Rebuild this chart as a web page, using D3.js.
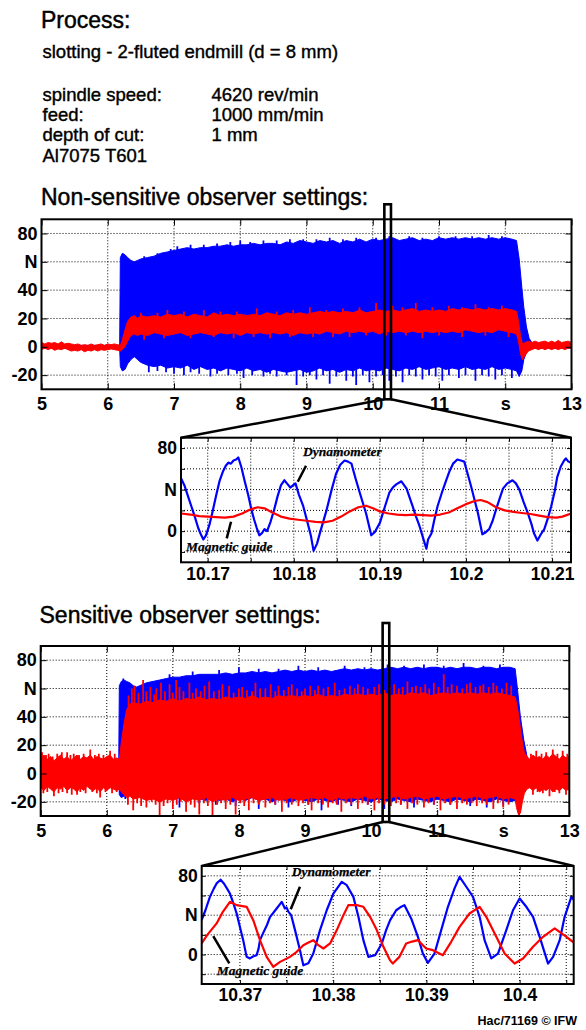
<!DOCTYPE html>
<html><head><meta charset="utf-8">
<script src="https://cdn.jsdelivr.net/npm/d3@7"></script>
<style>
body{margin:0;background:#fff;}
svg{display:block;}
</style></head><body>
<svg id="c" width="586" height="1030"></svg>
<script>
// ---------------- DATA ----------------
const overviewXTicks = [5,6,7,8,9,10,11,12,13];
const overviewXLabels = ["5","6","7","8","9","10","11","s","13"];
const yTicks = [-20,0,20,40,60,80];
const overviewYLabels = ["-20","0","20","40","N","80"];
const zoomYLabels = ["","0","","N","","80"];
const zoom1XTicks = [10.17,10.175,10.18,10.185,10.19,10.195,10.2,10.205,10.21];
const zoom1XLabels = ["10.17","","10.18","","10.19","","10.2","","10.21"];
const zoom2XTicks = [10.37,10.375,10.38,10.385,10.39,10.395,10.4,10.405];
const zoom2XLabels = ["10.37","","10.38","","10.39","","10.4",""];

// Non-sensitive overview: envelopes [time s, min N, max N]
const nsBlueEnv = [[5.0,-1,1],[6.18,-1,1],[6.19,-14,63],[6.22,-17,66],[6.26,-16,65],[6.3,-12,63],[6.35,-9,61],[6.4,-7,60],[6.45,-9,61],[6.5,-11,62],[6.6,-13,63],[6.7,-14,64],[6.8,-13,66],[6.9,-15,67],[7.0,-14,68],[7.1,-15,69],[7.2,-13,70],[7.3,-16,69],[7.4,-14,70],[7.5,-16,70],[7.6,-15,71],[7.7,-17,71],[7.8,-15,72],[7.9,-16,71],[8.0,-17,72],[8.1,-15,72],[8.2,-17,73],[8.3,-16,72],[8.4,-18,73],[8.5,-16,73],[8.6,-17,72],[8.7,-18,74],[8.8,-17,73],[8.9,-16,75],[9.0,-18,74],[9.1,-17,73],[9.2,-15,75],[9.3,-17,74],[9.4,-16,75],[9.5,-18,73],[9.6,-16,75],[9.7,-17,74],[9.8,-15,76],[9.9,-17,74],[10.0,-16,76],[10.1,-17,75],[10.2,-15,76],[10.3,-16,77],[10.4,-17,75],[10.5,-15,76],[10.6,-16,77],[10.7,-14,75],[10.8,-16,76],[10.9,-15,75],[11.0,-14,77],[11.1,-16,76],[11.2,-15,77],[11.3,-16,76],[11.4,-14,77],[11.5,-16,76],[11.6,-15,77],[11.7,-16,76],[11.8,-14,77],[11.9,-16,76],[12.0,-15,77],[12.1,-16,76],[12.17,-17,75],[12.21,-21,62],[12.25,-17,42],[12.28,-9,28],[12.32,-4,14],[12.36,-2,6],[12.4,-1,3],[12.45,-1,1],[13.0,-1,1]];
const nsRedEnv = [[5.0,-2,3],[5.05,-1,2],[5.1,-2,3],[5.15,-1,2.5],[5.2,-2.5,3],[5.25,-1.5,2],[5.3,-2,3.5],[5.35,-1,2],[5.4,-2,2.5],[5.45,-3,2],[5.5,-2.5,1.5],[5.55,-3,2],[5.6,-2,1],[5.65,-3.5,1.5],[5.7,-2.5,1],[5.75,-3,2],[5.8,-2,1],[5.85,-3,1.5],[5.9,-2,2],[5.95,-2.5,1],[6.0,-2,2],[6.05,-1.5,1.5],[6.1,-2,2],[6.15,-2.5,1.5],[6.19,-3,1],[6.22,-2,5],[6.26,0,12],[6.3,4,18],[6.35,8,21],[6.4,9,22],[6.45,8,20],[6.5,9,22],[6.6,8,21],[6.7,10,22],[6.8,9,21],[6.9,8,23],[7.0,9,22],[7.1,10,23],[7.2,8,21],[7.3,9,23],[7.4,10,22],[7.5,9,21],[7.6,8,24],[7.7,10,22],[7.8,9,23],[7.9,10,22],[8.0,8,23],[8.1,10,22],[8.2,9,23],[8.3,10,22],[8.4,9,24],[8.5,10,23],[8.6,9,22],[8.7,10,24],[8.8,8,23],[8.9,10,24],[9.0,9,23],[9.1,10,24],[9.2,9,25],[9.3,11,24],[9.4,10,25],[9.5,9,24],[9.6,11,25],[9.7,10,24],[9.8,11,26],[9.9,10,24],[10.0,11,25],[10.1,9,26],[10.2,11,25],[10.3,10,26],[10.4,11,25],[10.5,10,26],[10.6,11,27],[10.7,10,25],[10.8,11,26],[10.9,10,25],[11.0,11,26],[11.1,10,25],[11.2,11,27],[11.3,10,26],[11.4,12,27],[11.5,11,26],[11.6,10,27],[11.7,11,26],[11.8,10,27],[11.9,12,26],[12.0,11,27],[12.1,10,26],[12.17,9,25],[12.2,4,18],[12.23,-5,8],[12.26,-9,2],[12.3,-6,3],[12.35,-3,4],[12.4,-2,3],[12.45,-1,4],[12.5,-2,3],[12.55,-1,3.5],[12.6,-2,4],[12.65,-1,3],[12.7,-2,4],[12.75,-1,3],[12.8,-2,4.5],[12.85,-1,3],[12.9,-2,3.5],[12.95,-1,4],[13.0,-1,3]];
const nsBlueSpikes = [[6.62,-18],[6.75,-17],[6.88,-18],[7.0,-19],[7.15,-20],[7.25,-18],[7.38,-19],[7.55,-21],[7.65,-19],[7.82,-20],[7.95,-19],[8.05,-22],[8.18,-20],[8.35,-21],[8.45,-19],[8.55,-21],[8.7,-20],[8.85,-27],[8.95,-21],[9.05,-20],[9.15,-23],[9.25,-20],[9.35,-26],[9.45,-21],[9.6,-24],[9.7,-21],[9.75,-27],[9.85,-20],[9.95,-25],[10.05,-21],[10.15,-20],[10.25,-24],[10.35,-21],[10.45,-25],[10.55,-20],[10.65,-21],[10.75,-23],[10.85,-20],[10.95,-21],[11.05,-24],[11.15,-20],[11.3,-22],[11.4,-20],[11.55,-24],[11.65,-20],[11.75,-21],[11.85,-23],[11.95,-20],[12.1,-22],[6.55,64],[6.75,66],[6.95,69],[7.05,71],[7.25,72],[7.45,72],[7.65,73],[7.85,74],[8.0,75],[8.15,74],[8.35,75],[8.55,75],[8.75,76],[8.95,76],[9.15,76],[9.35,77],[9.55,76],[9.75,77],[10.05,77],[10.25,78],[10.55,78],[10.75,77],[11.0,78],[11.25,78],[11.5,78],[11.75,79],[11.95,78]];
const nsRedSpikes = [[6.5,24],[6.75,24],[6.9,26],[7.15,25],[7.45,26],[7.7,25],[7.95,25],[8.25,27],[8.55,25],[8.8,26],[9.05,28],[9.3,26],[9.55,27],[9.8,28],[10.05,31],[10.3,29],[10.45,28],[10.65,31],[10.9,28],[11.15,29],[11.35,28],[11.55,30],[11.75,28],[11.95,29],[6.55,5],[6.85,6],[7.25,6],[7.6,7],[7.9,6],[8.2,7],[8.45,6],[8.75,7],[9.1,7],[9.4,7],[9.65,7],[9.9,8],[10.2,8],[10.5,8],[10.75,6],[11.0,8],[11.35,7],[11.7,8],[12.05,7]];

// Sensitive overview
const sBlueEnv = [[5.0,-1,1],[6.18,-1,1],[6.19,-15,62],[6.22,-17,65],[6.26,-16,66],[6.3,-15,65],[6.35,-14,64],[6.4,-13,62],[6.45,-12,61],[6.5,-13,62],[6.6,-15,64],[6.7,-16,65],[6.8,-17,66],[6.9,-16,67],[7.0,-18,68],[7.1,-17,68],[7.2,-19,69],[7.3,-17,69],[7.4,-18,70],[7.5,-19,70],[7.6,-17,70],[7.7,-19,70],[7.8,-18,71],[7.9,-20,70],[8.0,-18,71],[8.1,-19,71],[8.2,-17,72],[8.3,-19,71],[8.4,-18,72],[8.5,-20,71],[8.6,-18,72],[8.7,-19,73],[8.8,-20,72],[8.9,-18,73],[9.0,-19,72],[9.1,-20,73],[9.2,-18,72],[9.3,-19,73],[9.4,-20,72],[9.5,-18,73],[9.6,-19,74],[9.7,-20,73],[9.8,-18,74],[9.9,-19,73],[10.0,-20,74],[10.1,-18,73],[10.2,-19,74],[10.3,-20,75],[10.4,-18,74],[10.5,-19,75],[10.6,-20,74],[10.7,-18,75],[10.8,-19,74],[10.9,-20,75],[11.0,-18,75],[11.1,-19,74],[11.2,-20,75],[11.3,-18,74],[11.4,-19,75],[11.5,-20,75],[11.6,-18,74],[11.7,-19,75],[11.8,-20,75],[11.9,-18,74],[12.0,-19,75],[12.1,-20,75],[12.18,-19,74],[12.21,-21,62],[12.26,-18,40],[12.31,-12,24],[12.36,-6,12],[12.4,-3,6],[12.45,-1,1],[13.0,-1,1]];
const sRedEnv = [[5.0,-10,11],[5.05,-12,13],[5.1,-9,10],[5.15,-11,12],[5.2,-13,9],[5.25,-10,11],[5.3,-11,13],[5.35,-9,10],[5.4,-12,12],[5.45,-10,9],[5.5,-11,11],[5.55,-13,13],[5.6,-10,10],[5.65,-12,12],[5.7,-9,11],[5.75,-11,13],[5.8,-12,10],[5.85,-10,12],[5.9,-13,11],[5.95,-10,10],[6.0,-12,12],[6.05,-10,13],[6.1,-11,10],[6.15,-12,11],[6.19,-11,10],[6.22,-13,22],[6.26,-15,35],[6.3,-17,45],[6.35,-16,49],[6.4,-18,50],[6.5,-17,49],[6.6,-19,51],[6.7,-18,50],[6.8,-20,52],[6.9,-18,51],[7.0,-19,53],[7.1,-17,51],[7.2,-20,53],[7.3,-18,52],[7.4,-19,54],[7.5,-17,52],[7.6,-20,53],[7.7,-18,52],[7.8,-19,54],[7.9,-17,53],[8.0,-19,54],[8.1,-18,53],[8.2,-17,55],[8.3,-19,53],[8.4,-18,54],[8.5,-17,53],[8.6,-19,55],[8.7,-18,54],[8.8,-17,55],[8.9,-19,54],[9.0,-18,55],[9.1,-17,54],[9.2,-18,56],[9.3,-17,54],[9.4,-19,55],[9.5,-17,54],[9.6,-18,56],[9.7,-17,55],[9.8,-18,56],[9.9,-16,55],[10.0,-18,56],[10.1,-17,55],[10.2,-18,57],[10.3,-17,55],[10.4,-16,56],[10.5,-18,55],[10.6,-17,57],[10.7,-16,56],[10.8,-18,57],[10.9,-17,55],[11.0,-16,56],[11.1,-18,57],[11.2,-17,56],[11.3,-16,57],[11.4,-18,56],[11.5,-17,57],[11.6,-16,56],[11.7,-18,57],[11.8,-17,56],[11.9,-16,57],[12.0,-18,56],[12.1,-17,55],[12.18,-18,54],[12.2,-24,50],[12.23,-29,42],[12.26,-28,32],[12.29,-20,22],[12.32,-14,15],[12.36,-11,12],[12.4,-10,10],[12.45,-12,13],[12.5,-10,11],[12.55,-13,12],[12.6,-11,10],[12.65,-12,13],[12.7,-10,11],[12.75,-13,14],[12.8,-11,12],[12.85,-12,10],[12.9,-10,13],[12.95,-12,11],[13.0,-11,12]];
const sBlueSpikes = [[6.28,-18],[7.1,-24],[7.4,-21],[7.65,-22],[7.95,-23],[8.3,-25],[8.55,-22],[8.75,-24],[9.05,-22],[9.25,-26],[9.5,-22],[9.7,-23],[9.95,-22],[10.2,-25],[10.45,-22],[10.65,-24],[10.95,-22],[11.2,-22],[11.5,-23],[11.75,-24],[12.0,-22],[6.25,67],[6.95,70],[7.3,72],[7.7,73],[8.0,75],[8.3,74],[8.6,74],[8.9,76],[9.2,75],[9.6,76],[9.9,75],[10.25,77],[10.5,76],[10.8,77],[11.1,76],[11.4,78],[11.7,76],[11.95,77]];
const sRedSpikes = [[5.02,15],[5.08,13],[5.12,14],[5.18,12],[5.25,14],[5.32,15],[5.4,15],[5.45,13],[5.5,14],[5.58,13],[5.65,14],[5.75,17],[5.82,13],[5.88,14],[5.95,13],[6.05,16],[6.12,14],[5.04,-14],[5.1,-13],[5.2,-16],[5.27,-14],[5.33,-13],[5.4,-14],[5.47,-15],[5.55,-15],[5.6,-13],[5.68,-14],[5.78,-13],[5.85,-14],[5.9,-17],[5.98,-13],[6.08,-14],[6.15,-13],
  [6.33,55],[6.38,60],[6.42,62],[6.48,57],[6.55,66],[6.6,58],[6.66,61],[6.72,56],[6.75,60],[6.82,64],[6.88,58],[6.95,63],[7.0,57],[7.05,66],[7.1,61],[7.16,58],[7.25,64],[7.3,57],[7.35,60],[7.42,58],[7.48,62],[7.55,65],[7.62,58],[7.7,59],[7.75,63],[7.85,62],[7.92,57],[8.0,60],[8.05,61],[8.12,59],[8.2,58],[8.25,64],[8.32,60],[8.4,60],[8.48,63],[8.55,58],[8.6,62],[8.68,59],[8.75,61],[8.8,63],[8.88,60],[8.95,58],[9.0,60],[9.08,62],[9.15,59],[9.2,62],[9.28,60],[9.35,61],[9.45,64],[9.52,59],[9.6,60],[9.68,62],[9.75,60],[9.8,63],[9.88,61],[9.95,60],[10.05,61],[10.12,63],[10.2,59],[10.28,62],[10.35,63],[10.42,60],[10.48,61],[10.55,65],[10.62,61],[10.68,62],[10.75,61],[10.82,63],[10.88,60],[10.95,64],[11.02,61],[11.1,70],[11.16,61],[11.22,63],[11.3,62],[11.38,60],[11.45,63],[11.5,64],[11.58,61],[11.65,62],[11.7,63],[11.78,61],[11.85,64],[11.9,62],[11.98,60],[12.05,64],[12.12,62],
  [6.32,-22],[6.4,-26],[6.46,-21],[6.52,-23],[6.6,-24],[6.68,-20],[6.74,-22],[6.8,-30],[6.86,-23],[6.92,-21],[7.0,-25],[7.06,-22],[7.12,-20],[7.2,-27],[7.27,-22],[7.33,-24],[7.4,-29],[7.47,-21],[7.53,-23],[7.6,-30],[7.67,-22],[7.73,-21],[7.8,-25],[7.87,-22],[7.95,-29],[8.02,-21],[8.08,-23],[8.15,-26],[8.22,-21],[8.3,-22],[8.4,-24],[8.47,-21],[8.55,-22],[8.65,-27],[8.72,-21],[8.8,-22],[8.9,-23],[8.97,-21],[9.05,-22],[9.1,-26],[9.2,-21],[9.27,-22],[9.35,-24],[9.42,-21],[9.48,-22],[9.55,-27],[9.62,-21],[9.7,-22],[9.8,-25],[9.87,-21],[9.95,-22],[10.05,-26],[10.12,-21],[10.2,-22],[10.3,-23],[10.38,-21],[10.45,-22],[10.55,-25],[10.62,-21],[10.7,-22],[10.8,-24],[10.87,-21],[10.95,-22],[11.05,-26],[11.12,-21],[11.2,-22],[11.3,-25],[11.38,-21],[11.45,-22],[11.52,-21],[11.6,-23],[11.68,-21],[11.75,-22],[11.85,-25],[11.92,-21],[12.0,-24],[12.08,-22],[12.24,-31],
  [12.42,14],[12.5,16],[12.58,14],[12.65,15],[12.75,17],[12.82,14],[12.9,16],[12.97,14],[12.45,-15],[12.52,-13],[12.6,-14],[12.7,-16],[12.78,-13],[12.85,-14],[12.95,-15]];

// Zoom 1 (non-sensitive), [time s, N]
const zoom1Blue = [[10.1669,51],[10.1673,44],[10.1677,34],[10.1681,24],[10.1685,14],[10.1689,3],[10.1692,-3],[10.1695,-8],[10.1698,-4],[10.1702,6],[10.1706,20],[10.171,35],[10.1714,49],[10.1718,58],[10.1721,63],[10.1724,66],[10.1727,65],[10.173,68],[10.1733,69],[10.17355,71],[10.1739,62],[10.1743,48],[10.1747,35],[10.1751,20],[10.1754,11],[10.1757,3],[10.176,-4],[10.1763,-2],[10.1766,2],[10.1769,0],[10.1773,9],[10.1777,20],[10.1781,33],[10.1785,44],[10.1789,49],[10.1792,46],[10.1796,42],[10.1799,44],[10.1802,46],[10.1806,35],[10.1811,24],[10.1817,5],[10.182,-5],[10.1823,-19],[10.1827,-12],[10.1831,0],[10.1838,20],[10.1844,40],[10.1849,55],[10.1854,64],[10.1859,68],[10.1863,67],[10.1867,65],[10.1872,50],[10.1877,36],[10.1884,17],[10.189,-4],[10.1894,-1],[10.19,8],[10.1906,24],[10.1911,37],[10.1915,42],[10.1919,45],[10.1925,48],[10.1931,41],[10.1938,24],[10.1942,14],[10.1946,5],[10.195,-6],[10.1954,-17],[10.1956,-8],[10.196,-2],[10.1963,10],[10.1967,24],[10.1972,37],[10.1977,49],[10.1981,58],[10.1985,65],[10.199,69],[10.1994,68],[10.1998,67],[10.2002,55],[10.2006,43],[10.201,30],[10.2014,17],[10.2019,-3],[10.2023,-1],[10.2027,2],[10.2031,10],[10.2035,21],[10.2039,31],[10.2043,41],[10.2048,46],[10.2054,49],[10.2058,46],[10.2062,40],[10.2067,28],[10.2072,17],[10.2076,7],[10.2079,-2],[10.2083,-9],[10.2087,-3],[10.2091,2],[10.2095,12],[10.2099,24],[10.2103,38],[10.2106,52],[10.211,62],[10.2114,68],[10.2116,70],[10.2119,67],[10.2122,66]];
const zoom1Red = [[10.1669,17],[10.168,16],[10.169,14.5],[10.17,14],[10.171,13.5],[10.172,13],[10.173,14],[10.174,17],[10.175,21],[10.1758,23],[10.1766,22],[10.1775,18],[10.1785,14],[10.1795,12],[10.1805,11],[10.1815,10],[10.1825,9],[10.1835,8.5],[10.1845,10],[10.1855,14],[10.1865,19],[10.1875,23],[10.1884,24.5],[10.1892,22],[10.19,19],[10.191,17],[10.192,16],[10.193,15.5],[10.194,16],[10.195,15.5],[10.196,15],[10.197,16],[10.198,18],[10.199,22],[10.2,26],[10.201,29],[10.2017,30],[10.2025,28],[10.2035,23],[10.2045,20],[10.2055,18.5],[10.2065,17.5],[10.2075,16.5],[10.2085,15],[10.2095,13.5],[10.2105,13],[10.2112,14],[10.2122,17]];

// Zoom 2 (sensitive)
const zoom2Blue = [[10.36589,35],[10.3663,45],[10.36678,58.6],[10.3672,67],[10.3675,72.3],[10.36793,76],[10.3683,72],[10.36862,67],[10.36893,62],[10.3693,52],[10.36965,41.7],[10.37,28],[10.37035,14.6],[10.37072,-2.4],[10.37107,-4],[10.3714,-2],[10.37179,-0.7],[10.372,6],[10.37215,14.6],[10.3725,22],[10.3729,30],[10.37322,38],[10.37394,46.8],[10.3742,50],[10.37448,53.6],[10.37483,46.8],[10.375,48],[10.37519,43.6],[10.3755,40],[10.37591,24.8],[10.37644,4.4],[10.3768,-11],[10.37734,-9],[10.37787,1],[10.37859,24.8],[10.37931,45],[10.38002,62],[10.38092,73.9],[10.38146,70.5],[10.38217,58.6],[10.38271,38.3],[10.38324,14.6],[10.38378,-2.4],[10.3845,-0.7],[10.38522,11.2],[10.38568,24.8],[10.38611,34.9],[10.38676,45],[10.3872,48],[10.38765,50.2],[10.38837,36.7],[10.38909,18],[10.38962,1],[10.39016,-8.5],[10.39087,1],[10.39159,24.8],[10.39231,48.5],[10.39302,67.2],[10.39356,79],[10.39428,68.9],[10.395,58.6],[10.39571,38.3],[10.39624,14.6],[10.39696,-4],[10.39768,1],[10.39857,24.8],[10.39929,45],[10.4,57],[10.40072,48.5],[10.40144,38.3],[10.40215,18],[10.40305,-9.2],[10.40359,-2.4],[10.4043,14.6],[10.40483,38.3],[10.40555,58.6],[10.40584,55.3]];
const zoom2Red = [[10.36589,11.2],[10.3665,20],[10.3675,31.6],[10.36817,43.4],[10.36893,53.6],[10.36965,50.2],[10.37072,48.5],[10.37143,34.9],[10.37215,14.6],[10.37287,-2.4],[10.37358,-12.6],[10.3743,-7.5],[10.37537,-2.4],[10.37609,2.7],[10.3768,9.5],[10.3773,12],[10.37787,14.6],[10.37841,9.5],[10.37895,6.1],[10.37967,11.2],[10.38039,24.8],[10.3811,40],[10.38163,50.2],[10.38253,50.2],[10.38324,48.5],[10.38396,38.3],[10.38468,24.8],[10.38539,7.8],[10.38611,-6],[10.3864,-9.2],[10.38711,-2.4],[10.38783,11.2],[10.38837,12.9],[10.38909,14.6],[10.38962,9.5],[10.38998,6.1],[10.3907,4.4],[10.39177,-0.7],[10.39266,12.9],[10.39356,28.1],[10.39463,41.7],[10.39571,48.5],[10.39642,38.3],[10.3975,18],[10.39839,1],[10.39946,-9.2],[10.40037,-4],[10.40144,7.8],[10.40251,18],[10.40376,26.5],[10.40502,18],[10.40584,11.9]];

// Annotation anchors (data units)
const zoom1Notes = {dynText:[10.18107,72.4], dynLine:[[10.18142,63.0],[10.18046,47.6]], magText:[10.16748,-19.1], magLine:[[10.17271,9.1],[10.17221,-6.9]]};
const zoom2Notes = {dynText:[10.37555,79.8], dynLine:[[10.37644,68.9],[10.37545,46]], magText:[10.36751,-20.85], magLine:[[10.36714,18.8],[10.36886,-8.95]]};
const zoomWindow = [10.175, 10.275];

// ---------------- DRAW ----------------
const svg = d3.select("#c");
svg.append("rect").attr("width",586).attr("height",1030).attr("fill","#fff");
const SANS = '"Liberation Sans", Arial, Helvetica, sans-serif';
const SERIF = '"Liberation Serif", "Times New Roman", serif';
const BLUE = "#0000ff", RED = "#ff0000";

function txt(x, y, s, size, opts={}) {
  const t = svg.append("text").attr("x",x).attr("y",y).text(s)
    .attr("font-family", opts.family || SANS).attr("font-size", size)
    .attr("font-weight", opts.weight || "normal").attr("font-style", opts.style || "normal")
    .attr("text-anchor", opts.anchor || "start").attr("fill","#000");
  if (opts.heavy) t.attr("stroke","#000").attr("stroke-width",opts.heavy);
  return t;
}

txt(41, 28, "Process:", 23, {heavy:0.45});
txt(42.5, 58, "slotting - 2-fluted endmill (d = 8 mm)", 18.5, {heavy:0.4});
const paramNames = ["spindle speed:", "feed:", "depth of cut:", "Al7075 T601"];
const paramValues = ["4620 rev/min", "1000 mm/min", "1 mm", ""];
paramNames.forEach((n,i)=>{
  txt(42.5, 100.5 + i*20.4, n, 18.5, {heavy:0.4});
  if (paramValues[i]) txt(211.5, 100.5 + i*20.4, paramValues[i], 18.5, {heavy:0.4});
});
txt(41, 205, "Non-sensitive observer settings:", 23, {heavy:0.45});
txt(39.5, 623, "Sensitive observer settings:", 23, {heavy:0.45});
txt(577, 1025, "Hac/71169 \u00A9 IFW", 12.5, {weight:"bold", anchor:"end"});

function envelopeAt(env, t) {
  const i = Math.min(env.length-1, Math.max(0, d3.bisector(d=>d[0]).center(env, t)));
  return env[i];
}

function drawPanel(cfg) {
  const g = svg.append("g");
  const x = d3.scaleLinear().domain(cfg.xDomain).range(cfg.xRange);
  const y = d3.scaleLinear().domain([-30, 90]).range(cfg.yRange);
  const L = cfg.xRange[0], R = cfg.xRange[1], T = cfg.yRange[1], B = cfg.yRange[0];
  svg.append("clipPath").attr("id", cfg.id).append("rect")
    .attr("x", L).attr("y", T).attr("width", R-L).attr("height", B-T);
  const grid = g.append("g").attr("stroke","#000").attr("stroke-width",1).attr("stroke-dasharray","1,2");
  cfg.xTicks.forEach(v => { if (x(v) > L+1 && x(v) < R-1)
    grid.append("line").attr("x1",x(v)).attr("x2",x(v)).attr("y1",T).attr("y2",B); });
  yTicks.forEach(v => grid.append("line").attr("x1",L).attr("x2",R).attr("y1",y(v)).attr("y2",y(v)));
  const plot = g.append("g").attr("clip-path", `url(#${cfg.id})`);
  cfg.draw(plot, x, y);
  const fs = cfg.fontSize;
  const style = a => a.attr("font-family", SANS).attr("font-size", fs).attr("font-weight","bold")
      .call(s => s.select(".domain").remove());
  g.append("g").attr("transform",`translate(0,${B})`)
    .call(d3.axisBottom(x).tickValues(cfg.xTicks).tickFormat((d,i)=>cfg.xLabels[i]).tickSizeInner(-cfg.tick).tickSizeOuter(0).tickPadding(cfg.xPad))
    .call(style);
  g.append("g").attr("transform",`translate(0,${T})`)
    .call(d3.axisTop(x).tickValues(cfg.xTicks).tickFormat("").tickSizeInner(-cfg.tick).tickSizeOuter(0))
    .call(style);
  g.append("g").attr("transform",`translate(${L},0)`)
    .call(d3.axisLeft(y).tickValues(yTicks).tickFormat((d,i)=>cfg.yLabels[i]).tickSizeInner(-cfg.tick).tickSizeOuter(0).tickPadding(cfg.yPad))
    .call(style);
  g.append("g").attr("transform",`translate(${R},0)`)
    .call(d3.axisRight(y).tickValues(yTicks).tickFormat("").tickSizeInner(-cfg.tick).tickSizeOuter(0))
    .call(style);
  g.append("rect").attr("x",L).attr("y",T).attr("width",R-L).attr("height",B-T)
    .attr("fill","none").attr("stroke","#000").attr("stroke-width",2);
  return {x, y, L, R, T, B};
}

function drawOverview(plot, x, y, series) {
  series.forEach(s => {
    plot.append("path").datum(s.env)
      .attr("d", d3.area().x(d=>x(d[0])).y0(d=>y(d[1])).y1(d=>y(d[2])))
      .attr("fill", s.color).attr("stroke", s.color).attr("stroke-width", 1).attr("stroke-linejoin","bevel");
    plot.append("g").attr("stroke", s.color).attr("stroke-width", 1.8)
      .selectAll("line").data(s.spikes).join("line")
      .attr("x1", d=>x(d[0])).attr("x2", d=>x(d[0]))
      .attr("y1", d=>y(d[1]))
      .attr("y2", d=>{ const e = envelopeAt(s.env, d[0]); return y(d[1] > e[2] ? e[2] - 2 : e[1] + 2); });
  });
}

function drawZoom(plot, x, y, blue, red) {
  const line = d3.line().x(d=>x(d[0])).y(d=>y(d[1]));
  plot.append("path").datum(blue).attr("d", line).attr("fill","none").attr("stroke",BLUE).attr("stroke-width",2.2).attr("stroke-linejoin","round");
  plot.append("path").datum(red).attr("d", line).attr("fill","none").attr("stroke",RED).attr("stroke-width",2.2).attr("stroke-linejoin","round");
}

function drawNotes(p, notes) {
  const ln = (a,b) => svg.append("line").attr("x1",p.x(a[0])).attr("y1",p.y(a[1])).attr("x2",p.x(b[0])).attr("y2",p.y(b[1]))
      .attr("stroke","#000").attr("stroke-width",2.5);
  ln(notes.dynLine[0], notes.dynLine[1]);
  ln(notes.magLine[0], notes.magLine[1]);
  txt(p.x(notes.dynText[0]), p.y(notes.dynText[1]), "Dynamometer", 13.5, {family:SERIF, weight:"bold", style:"italic", heavy:0.25});
  txt(p.x(notes.magText[0]), p.y(notes.magText[1]), "Magnetic guide", 13.5, {family:SERIF, weight:"bold", style:"italic", heavy:0.25});
}

const P1 = drawPanel({id:"c1", xDomain:[5,13], xRange:[41.5,571.5], yRange:[389.3,219.3],
  xTicks:overviewXTicks, xLabels:overviewXLabels, yLabels:overviewYLabels, fontSize:18, tick:6, xPad:8, yPad:4,
  draw:(pl,x,y)=>drawOverview(pl,x,y,[{env:nsBlueEnv, spikes:nsBlueSpikes, color:BLUE},{env:nsRedEnv, spikes:nsRedSpikes, color:RED}])});

const Z1 = drawPanel({id:"c2", xDomain:[10.1669,10.2122], xRange:[181,571], yRange:[562.3,437.7],
  xTicks:zoom1XTicks, xLabels:zoom1XLabels, yLabels:zoomYLabels, fontSize:17.5, tick:4, xPad:5, yPad:4,
  draw:(pl,x,y)=>drawZoom(pl,x,y,zoom1Blue,zoom1Red)});

const P2 = drawPanel({id:"c3", xDomain:[5,13], xRange:[40.7,569.3], yRange:[816,646],
  xTicks:overviewXTicks, xLabels:overviewXLabels, yLabels:overviewYLabels, fontSize:18, tick:6, xPad:8, yPad:4,
  draw:(pl,x,y)=>drawOverview(pl,x,y,[{env:sBlueEnv, spikes:sBlueSpikes, color:BLUE},{env:sRedEnv, spikes:sRedSpikes, color:RED}])});

const Z2 = drawPanel({id:"c4", xDomain:[10.3659,10.4058], xRange:[201.7,573.7], yRange:[984,866],
  xTicks:zoom2XTicks, xLabels:zoom2XLabels, yLabels:zoomYLabels, fontSize:17.5, tick:4, xPad:5, yPad:4,
  draw:(pl,x,y)=>drawZoom(pl,x,y,zoom2Blue,zoom2Red)});

drawNotes(Z1, zoom1Notes);
drawNotes(Z2, zoom2Notes);

function zoomLink(P, Z, above, below) {
  const xl = P.x(zoomWindow[0]), xr = P.x(zoomWindow[1]);
  const top = P.T - above, bot = P.B + below;
  svg.append("rect").attr("x",xl).attr("y",top).attr("width",xr-xl).attr("height",bot-top)
    .attr("fill","none").attr("stroke","#000").attr("stroke-width",2.6);
  svg.append("line").attr("x1",xl).attr("y1",bot).attr("x2",Z.L).attr("y2",Z.T).attr("stroke","#000").attr("stroke-width",2.5);
  svg.append("line").attr("x1",xr).attr("y1",bot).attr("x2",Z.R).attr("y2",Z.T).attr("stroke","#000").attr("stroke-width",2.5);
}
zoomLink(P1, Z1, 15, 10);
zoomLink(P2, Z2, 23, 6);
</script>
</body></html>
